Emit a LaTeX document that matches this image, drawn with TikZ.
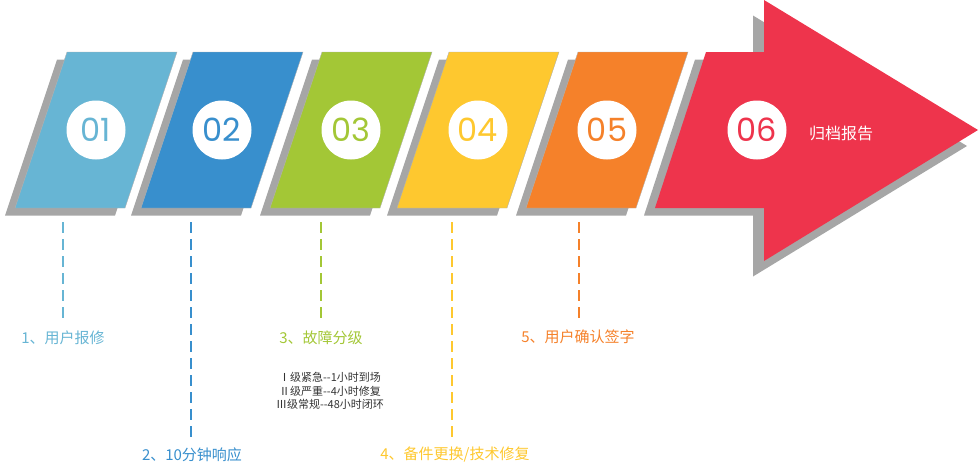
\documentclass[tikz,border=0pt]{standalone}
\usepackage{fontspec}
\setmainfont{Noto Sans CJK SC}
\newfontfamily\numfont{Poppins}
\definecolor{cA}{HTML}{67B5D4}
\definecolor{cB}{HTML}{388FCD}
\definecolor{cC}{HTML}{A3C736}
\definecolor{cD}{HTML}{FEC82F}
\definecolor{cE}{HTML}{F5812A}
\definecolor{cF}{HTML}{EE344C}
\definecolor{shgray}{HTML}{A6A6A6}
\definecolor{txtdark}{HTML}{333333}
\newcommand{\dd}{{-}{-}}
\tikzset{
  shadowshape/.style={fill=shgray},
  boxshape/.style={draw=gray!60, line width=0.4pt},
  numcirc/.style={circle, fill=white, minimum size=59pt, inner sep=0pt, font=\numfont\fontsize{32}{32}\selectfont},
  stepline/.style={line width=2.6pt, dash pattern=on 11pt off 6pt},
  steplabel/.style={font=\fontsize{15}{15}\selectfont, inner sep=0pt},
  smalltext/.style={font=\fontsize{11}{13.5}\selectfont, text=txtdark, align=center, inner sep=0pt}
}
\begin{document}
\begin{tikzpicture}[x=1pt,y=-1pt]
\useasboundingbox (0,0) rectangle (980,464);
% parallelogram steps
\foreach \xt/\c/\n [count=\i] in {67/cA/01,193/cB/02,322/cC/03,449/cD/04,578/cE/05}{
  \fill[shadowshape] (\xt-10,59.5) -- (\xt+100,59.5) -- (\xt+48,215.5) -- (\xt-62,215.5) -- cycle;
  \path[boxshape, fill=\c] (\xt,52) -- (\xt+110,52) -- (\xt+58,208) -- (\xt-52,208) -- cycle;
  \node[numcirc, text=\c] (n\i) at (\xt+29,130) {\n};
}
% final arrow
\fill[shadowshape] (695,59.5) -- (753,59.5) -- (753,15.5) -- (967,146) -- (753,276.5) -- (753,215.5) -- (644,215.5) -- cycle;
\fill[cF] (706,52) -- (764,52) -- (764,0) -- (978,130) -- (764,261) -- (764,208) -- (655,208) -- cycle;
\node[numcirc, text=cF] (n6) at (757,130) {06};
\node[font=\fontsize{16}{16}\selectfont, text=white, inner sep=0pt] (t6) at (841,133) {归档报告};
% dashed connectors and labels
\coordinate (s1) at (63,222);   \coordinate (e1) at (63,322);
\coordinate (s2) at (191,222);  \coordinate (e2) at (191,440);
\coordinate (s3) at (321,222);  \coordinate (e3) at (321,322);
\coordinate (s4) at (452,222);  \coordinate (e4) at (452,440);
\coordinate (s5) at (579,222);  \coordinate (e5) at (579,322);
\draw[stepline, cA] (s1) -- (e1);
\draw[stepline, cB] (s2) -- (e2);
\draw[stepline, cC] (s3) -- (e3);
\draw[stepline, cD] (s4) -- (e4);
\draw[stepline, cE] (s5) -- (e5);
\node[steplabel, text=cA] (l1) at (63,338) {1、用户报修};
\node[steplabel, text=cB] (l2) at (192,455) {2、10分钟响应};
\node[steplabel, text=cC] (l3) at (321,338) {3、故障分级};
\node[steplabel, text=cD] (l4) at (455,455) {4、备件更换/技术修复};
\node[steplabel, text=cE] (l5) at (578,337) {5、用户确认签字};
\node[smalltext] (g3) at (330,391) {Ⅰ级紧急\dd 1小时到场\\Ⅱ级严重\dd 4小时修复\\Ⅲ级常规\dd 48小时闭环};
\end{tikzpicture}
\end{document}
